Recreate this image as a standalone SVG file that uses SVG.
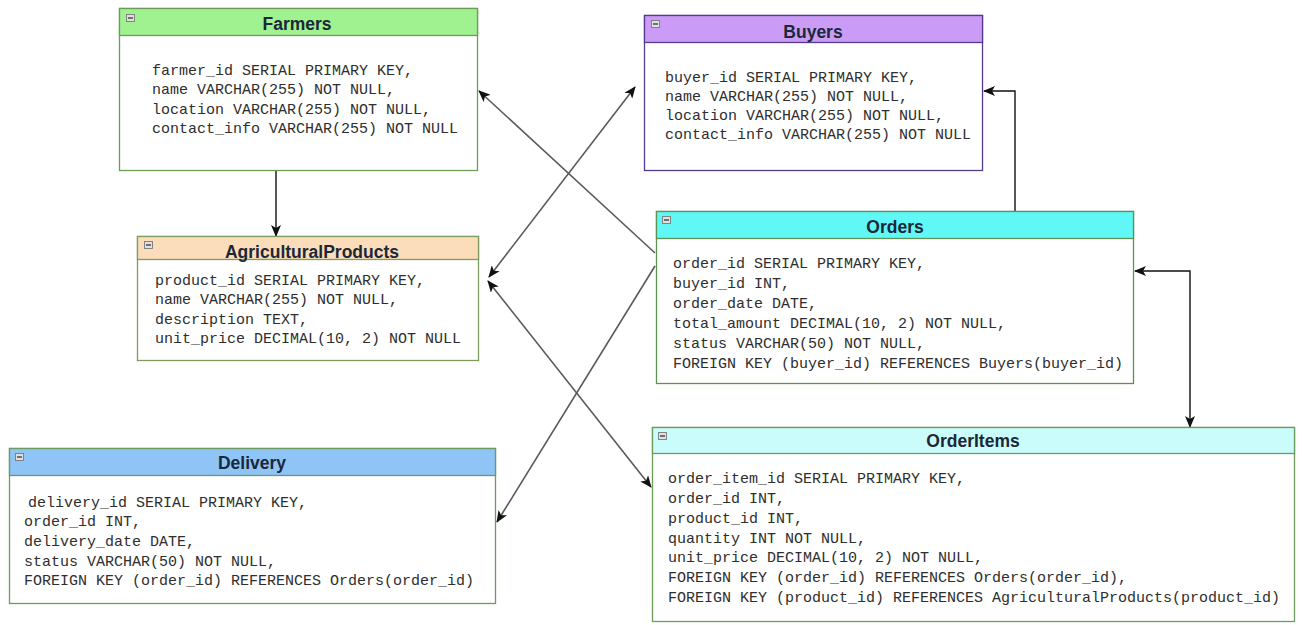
<svg xmlns="http://www.w3.org/2000/svg" width="1302" height="625" viewBox="0 0 1302 625">
  <style>
    .body { fill: #ffffff; stroke-width: 1.3; }
    .hdr { stroke-width: 1.3; }
    .title { font-family: "Liberation Sans", Arial, sans-serif; font-weight: bold; font-size: 17.5px; fill: #1b2838; text-anchor: middle; }
    .col { font-family: "Liberation Mono", "DejaVu Sans Mono", monospace; font-size: 15px; fill: #2e2e2e; }
    .icon { fill: #e0e0e0; stroke: #7a7a7a; stroke-width: 0.9; }
    .icon-bar { stroke: #333; stroke-width: 1.3; }
    .link { fill: none; stroke: #5a5a5a; stroke-width: 1.6; }
    .ortho { fill: none; stroke: #111111; stroke-width: 1.4; }
  </style>
  <defs>
    <marker id="arrow" viewBox="0 0 12 10" refX="11" refY="5" markerWidth="12" markerHeight="10" markerUnits="userSpaceOnUse" orient="auto-start-reverse">
      <path d="M0,0 L12,5 L0,10 L3,5 z" fill="#111"/>
    </marker>
  </defs>

  <rect width="1302" height="625" fill="#ffffff"/>

  <!-- connectors -->
  <g id="connectors">
    <line class="ortho" x1="276" y1="170" x2="276" y2="236" marker-end="url(#arrow)"/>
    <line class="link" x1="655" y1="253" x2="479" y2="91" marker-end="url(#arrow)"/>
    <line class="link" x1="489" y1="277" x2="635" y2="87" marker-start="url(#arrow)" marker-end="url(#arrow)"/>
    <line class="link" x1="655" y1="266" x2="497" y2="522" marker-end="url(#arrow)"/>
    <line class="link" x1="488" y1="281" x2="651" y2="487" marker-start="url(#arrow)" marker-end="url(#arrow)"/>
    <polyline class="ortho" points="1015,211 1015,91 984,91" marker-end="url(#arrow)"/>
    <polyline class="ortho" points="1135,271 1190,271 1190,427" marker-start="url(#arrow)" marker-end="url(#arrow)"/>
  </g>

  <!-- Farmers -->
  <g id="farmers">
    <rect class="body" x="119.5" y="8.5" width="358" height="162" stroke="#6b9d58"/>
    <rect class="hdr" x="119.5" y="8.5" width="358" height="27" fill="#a0f190" stroke="#6b9d58"/>
    <rect class="icon" x="126.5" y="14.5" width="8" height="7"/>
    <line class="icon-bar" x1="128" y1="18" x2="133" y2="18"/>
    <text class="title" x="297" y="30">Farmers</text>
    <text class="col" x="152" y="75">farmer_id SERIAL PRIMARY KEY,</text>
    <text class="col" x="152" y="94">name VARCHAR(255) NOT NULL,</text>
    <text class="col" x="152" y="114">location VARCHAR(255) NOT NULL,</text>
    <text class="col" x="152" y="133">contact_info VARCHAR(255) NOT NULL</text>
  </g>

  <!-- Buyers -->
  <g id="buyers">
    <rect class="body" x="644.5" y="15.5" width="338" height="155" stroke="#553a92"/>
    <rect class="hdr" x="644.5" y="15.5" width="338" height="27" fill="#cb9cf6" stroke="#553a92"/>
    <rect class="icon" x="651.5" y="20.5" width="8" height="7"/>
    <line class="icon-bar" x1="653" y1="24" x2="658" y2="24"/>
    <text class="title" x="813" y="37.5">Buyers</text>
    <text class="col" x="665" y="81.5">buyer_id SERIAL PRIMARY KEY,</text>
    <text class="col" x="665" y="100.5">name VARCHAR(255) NOT NULL,</text>
    <text class="col" x="665" y="120">location VARCHAR(255) NOT NULL,</text>
    <text class="col" x="665" y="139">contact_info VARCHAR(255) NOT NULL</text>
  </g>

  <!-- AgriculturalProducts -->
  <g id="agricultural-products">
    <rect class="body" x="137.5" y="236.5" width="341" height="124" stroke="#7d9c5e"/>
    <rect class="hdr" x="137.5" y="236.5" width="341" height="23" fill="#fbddbb" stroke="#7d9c5e"/>
    <rect class="icon" x="144.5" y="241.5" width="8" height="7"/>
    <line class="icon-bar" x1="146" y1="245" x2="151" y2="245"/>
    <text class="title" x="312" y="258">AgriculturalProducts</text>
    <text class="col" x="155" y="285">product_id SERIAL PRIMARY KEY,</text>
    <text class="col" x="155" y="304">name VARCHAR(255) NOT NULL,</text>
    <text class="col" x="155" y="324">description TEXT,</text>
    <text class="col" x="155" y="343">unit_price DECIMAL(10, 2) NOT NULL</text>
  </g>

  <!-- Orders -->
  <g id="orders">
    <rect class="body" x="656.5" y="211.5" width="477" height="172" stroke="#5e9155"/>
    <rect class="hdr" x="656.5" y="211.5" width="477" height="27" fill="#60f7f7" stroke="#5e9155"/>
    <rect class="icon" x="662.5" y="216.5" width="8" height="7"/>
    <line class="icon-bar" x1="664" y1="220" x2="669" y2="220"/>
    <text class="title" x="895" y="232.5">Orders</text>
    <text class="col" x="673" y="268">order_id SERIAL PRIMARY KEY,</text>
    <text class="col" x="673" y="288">buyer_id INT,</text>
    <text class="col" x="673" y="308">order_date DATE,</text>
    <text class="col" x="673" y="328">total_amount DECIMAL(10, 2) NOT NULL,</text>
    <text class="col" x="673" y="347.5">status VARCHAR(50) NOT NULL,</text>
    <text class="col" x="673" y="367.5">FOREIGN KEY (buyer_id) REFERENCES Buyers(buyer_id)</text>
  </g>

  <!-- Delivery -->
  <g id="delivery">
    <rect class="body" x="9.5" y="448.5" width="486" height="155" stroke="#6e9a62"/>
    <rect class="hdr" x="9.5" y="448.5" width="486" height="27" fill="#8fc4f7" stroke="#6e9a62"/>
    <rect class="icon" x="15.5" y="453.5" width="8" height="7"/>
    <line class="icon-bar" x1="17" y1="457" x2="22" y2="457"/>
    <text class="title" x="252" y="469">Delivery</text>
    <text class="col" x="28" y="506.5">delivery_id SERIAL PRIMARY KEY,</text>
    <text class="col" x="24" y="526">order_id INT,</text>
    <text class="col" x="24" y="546">delivery_date DATE,</text>
    <text class="col" x="24" y="565.5">status VARCHAR(50) NOT NULL,</text>
    <text class="col" x="24" y="585">FOREIGN KEY (order_id) REFERENCES Orders(order_id)</text>
  </g>

  <!-- OrderItems -->
  <g id="order-items">
    <rect class="body" x="652.5" y="427.5" width="642" height="194" stroke="#6c9c5c"/>
    <rect class="hdr" x="652.5" y="427.5" width="642" height="26" fill="#cafcfb" stroke="#6c9c5c"/>
    <rect class="icon" x="658.5" y="432.5" width="8" height="7"/>
    <line class="icon-bar" x1="660" y1="436" x2="665" y2="436"/>
    <text class="title" x="973" y="447">OrderItems</text>
    <text class="col" x="668" y="483">order_item_id SERIAL PRIMARY KEY,</text>
    <text class="col" x="668" y="503">order_id INT,</text>
    <text class="col" x="668" y="522.5">product_id INT,</text>
    <text class="col" x="668" y="542.5">quantity INT NOT NULL,</text>
    <text class="col" x="668" y="562">unit_price DECIMAL(10, 2) NOT NULL,</text>
    <text class="col" x="668" y="581.5">FOREIGN KEY (order_id) REFERENCES Orders(order_id),</text>
    <text class="col" x="668" y="601.5">FOREIGN KEY (product_id) REFERENCES AgriculturalProducts(product_id)</text>
  </g>
</svg>
